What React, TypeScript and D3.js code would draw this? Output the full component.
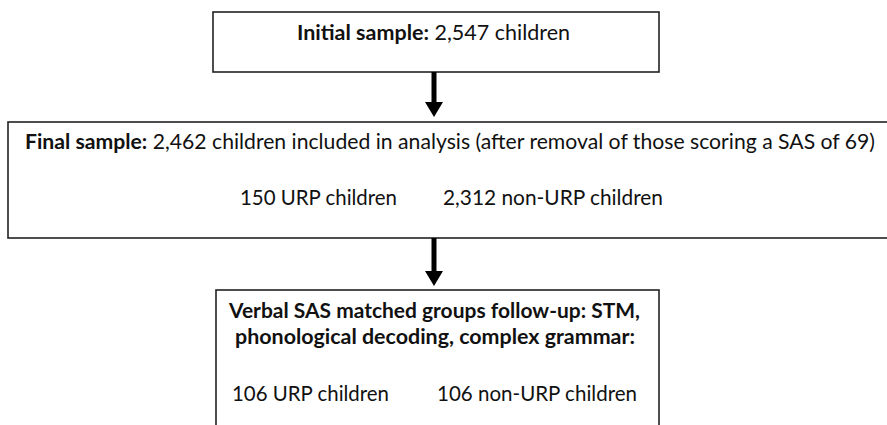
import { useEffect, useRef } from 'react';
import * as d3 from 'd3';

// Flow stages, top to bottom
const stageHeads = ['Initial sample:', 'Final sample:'];
const stageTotals = [2547, 2462];
const stageNotes = [
  'children',
  'children included in analysis (after removal of those scoring a SAS of 69)',
];
const followUpLines = [
  'Verbal SAS matched groups follow-up: STM,',
  'phonological decoding, complex grammar:',
];
const groupNames = ['URP children', 'non-URP children'];
const finalCounts = [150, 2312];
const matchedCounts = [106, 106];

/**
 * Sample flow chart (initial -> final -> matched follow-up)
 */
export default function App() {
  const svgRef = useRef<SVGSVGElement | null>(null);

  useEffect(() => {
    if (!svgRef.current) return;
    const svg = d3.select(svgRef.current);
    svg.selectAll('*').remove();

    const width = 887;
    const height = 425;
    const fmt = d3.format(',');
    const ink = '#111';
    const font = 'Lato, "Open Sans", sans-serif';

    svg.attr('width', width).attr('height', height);

    // Boxes
    const boxes = [
      { x: 213, y: 12, w: 446, h: 60 },
      { x: 8, y: 122, w: 900, h: 116 },
      { x: 216, y: 290, w: 443, h: 160 },
    ];
    svg.selectAll('rect.box')
      .data(boxes)
      .enter()
      .append('rect')
      .attr('class', 'box')
      .attr('x', d => d.x)
      .attr('y', d => d.y)
      .attr('width', d => d.w)
      .attr('height', d => d.h)
      .attr('fill', 'white')
      .attr('stroke', '#222')
      .attr('stroke-width', 1.6);

    // Arrows between boxes
    const arrows = [
      { x: 434, y1: 72, y2: 117 },
      { x: 434, y1: 238, y2: 286 },
    ];
    arrows.forEach(a => {
      svg.append('line')
        .attr('x1', a.x)
        .attr('x2', a.x)
        .attr('y1', a.y1)
        .attr('y2', a.y2 - 12)
        .attr('stroke', 'black')
        .attr('stroke-width', 5);
      svg.append('path')
        .attr('d', `M${a.x - 9},${a.y2 - 15} L${a.x + 9},${a.y2 - 15} L${a.x},${a.y2} Z`)
        .attr('fill', 'black');
    });

    // Helper: text line with bold head + regular tail, stretched to a width
    const addLine = (x: number, y: number, len: number, bold: string, rest: string) => {
      const t = svg.append('text')
        .attr('x', x)
        .attr('y', y)
        .attr('textLength', len)
        .attr('lengthAdjust', 'spacingAndGlyphs')
        .attr('font-family', font)
        .attr('font-size', 20.5)
        .attr('fill', ink);
      if (bold) t.append('tspan').attr('font-weight', 'bold').text(bold);
      if (rest) t.append('tspan').text((bold ? ' ' : '') + rest);
    };

    // Stage 1 and 2 headlines
    addLine(297, 40, 273, stageHeads[0], `${fmt(stageTotals[0])} ${stageNotes[0]}`);
    addLine(25, 149, 850, stageHeads[1], `${fmt(stageTotals[1])} ${stageNotes[1]}`);

    // Final sample groups
    addLine(240, 205, 157, '', `${fmt(finalCounts[0])} ${groupNames[0]}`);
    addLine(443, 205, 220, '', `${fmt(finalCounts[1])} ${groupNames[1]}`);

    // Follow-up box
    addLine(229, 318, 411, followUpLines[0], '');
    addLine(235, 344, 400, followUpLines[1], '');
    addLine(232, 401, 157, '', `${fmt(matchedCounts[0])} ${groupNames[0]}`);
    addLine(437, 401, 200, '', `${fmt(matchedCounts[1])} ${groupNames[1]}`);
  }, []);

  return (
    <svg
      ref={svgRef}
      style={{ position: 'absolute', left: 0, top: 0, display: 'block', background: 'white' }}
    />
  );
}
